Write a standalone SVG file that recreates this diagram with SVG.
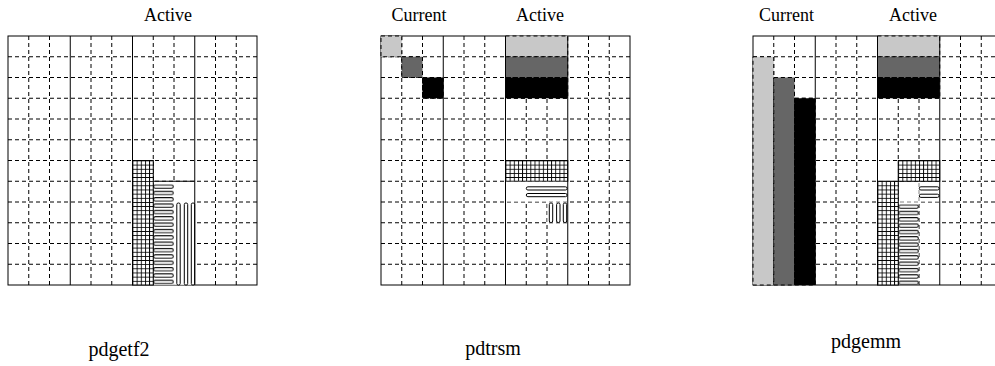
<svg xmlns="http://www.w3.org/2000/svg" width="995" height="366" viewBox="0 0 995 366">
<style>
.d{stroke:#000;stroke-width:1;stroke-dasharray:4 3;fill:none}
.s{stroke:#000;stroke-width:1;fill:none}
.lg{fill:#c8c8c8}
.dg{fill:#666}
.bk{fill:#000}
.f{stroke:#000;stroke-width:1;stroke-dasharray:4 3}
.w{fill:#fff;stroke:none}
.bar{fill:#fff;stroke:#000;stroke-width:1}
.xh{fill:url(#xh);stroke:#000;stroke-width:1}
.hb{fill:url(#hb);stroke:none}
.lbl{font-family:"Liberation Serif","Times New Roman",serif;font-size:18px;text-anchor:middle;fill:#000}
.name{font-family:"Liberation Serif","Times New Roman",serif;font-size:20px;text-anchor:middle;fill:#000}
</style>
<defs>
<pattern id="xh" patternUnits="userSpaceOnUse" width="4.15" height="4.15">
<rect width="4.15" height="4.15" fill="#fff"/>
<path d="M0.45,0V4.15M0,0.45H4.15" stroke="#000" stroke-width="0.9" fill="none"/>
</pattern>
<pattern id="hb" patternUnits="userSpaceOnUse" width="20.75" height="6.35">
<rect x="0.6" y="0.6" width="19.5" height="3.2" rx="1.6" fill="#fff" stroke="#000" stroke-width="1"/>
</pattern>
<g id="gridbase">
<path class="d" d="M0,20.75H249M0,41.5H249M0,62.25H249M0,83H249M0,103.75H249M0,124.5H249M0,145.25H249M0,166H249M0,186.75H249M0,207.5H249M0,228.25H249"/>
<path class="d" d="M20.75,0V249M41.5,0V249M83,0V249M103.75,0V249M145.25,0V249M166,0V249M207.5,0V249M228.25,0V249"/>
<rect class="s" x="0" y="0" width="249" height="249"/>
</g>
<path id="blocklines" class="s" d="M62.25,0V249M124.5,0V249M186.75,0V249"/>
</defs>

<g id="panel-pdgetf2">
<use href="#gridbase" transform="translate(8,36)"/>
<rect class="w" x="153.75" y="181.75" width="40.5" height="103"/>
<g transform="translate(153.1,184.4)"><rect class="hb" width="20.75" height="100.6"/></g>
<rect class="bar" x="176.8" y="203" width="3.4" height="82" rx="1.5"/>
<rect class="bar" x="184.3" y="203" width="3.4" height="82" rx="1.5"/>
<rect class="bar" x="191.3" y="203" width="3.4" height="82" rx="1.5"/>
<path class="s" d="M153.25,181.25H194.75"/>
<g transform="translate(132.5,160.5)"><rect class="xh" width="20.75" height="124.5"/></g>
<use href="#blocklines" transform="translate(8,36)"/>
<text class="lbl" x="168" y="21">Active</text>
<text class="name" x="119" y="356">pdgetf2</text>
</g>

<g id="panel-pdtrsm">
<use href="#gridbase" transform="translate(381,36)"/>
<rect class="lg f" x="381" y="36" width="20.75" height="20.75"/>
<rect class="dg f" x="401.75" y="56.75" width="20.75" height="20.75"/>
<rect class="bk f" x="422.5" y="77.5" width="20.75" height="20.75"/>
<rect class="lg f" x="505.5" y="36" width="62.25" height="20.75"/>
<rect class="dg f" x="505.5" y="56.75" width="62.25" height="20.75"/>
<rect class="bk f" x="505.5" y="77.5" width="62.25" height="20.75"/>
<g transform="translate(505.5,160.5)"><rect class="xh" width="62.25" height="20.75"/></g>
<rect class="w" x="506" y="181.75" width="61.25" height="19.75"/>
<rect class="bar" x="526.3" y="186.8" width="40.8" height="3.2" rx="1.6"/>
<rect class="bar" x="526.3" y="193.5" width="40.8" height="3.2" rx="1.6"/>
<rect class="w" x="547.5" y="202.5" width="19.75" height="19.75"/>
<rect class="bar" x="549.3" y="203" width="3.4" height="19.5" rx="1.5"/>
<rect class="bar" x="556.6" y="203" width="3.4" height="19.5" rx="1.5"/>
<rect class="bar" x="563.3" y="203" width="3.4" height="19.5" rx="1.5"/>
<use href="#blocklines" transform="translate(381,36)"/>
<text class="lbl" x="419" y="21">Current</text>
<text class="lbl" x="540" y="21">Active</text>
<text class="name" x="493" y="355">pdtrsm</text>
</g>

<g id="panel-pdgemm">
<use href="#gridbase" transform="translate(753,36)"/>
<rect class="lg f" x="753" y="56.75" width="20.75" height="228.25"/>
<rect class="dg f" x="773.75" y="77.5" width="20.75" height="207.5"/>
<rect class="bk f" x="794.5" y="98.25" width="20.75" height="186.75"/>
<rect class="lg f" x="877.5" y="36" width="62.25" height="20.75"/>
<rect class="dg f" x="877.5" y="56.75" width="62.25" height="20.75"/>
<rect class="bk f" x="877.5" y="77.5" width="62.25" height="20.75"/>
<rect class="w" x="878" y="161" width="19.75" height="19.75"/>
<rect class="w" x="898.75" y="181.75" width="19.75" height="19.75"/>
<rect class="w" x="919.5" y="181.75" width="19.75" height="19.75"/>
<rect class="bar" x="919.3" y="186.8" width="19.8" height="3.2" rx="1.6"/>
<rect class="bar" x="919.3" y="194.2" width="19.8" height="3.2" rx="1.6"/>
<rect class="w" x="898.75" y="202.5" width="19.75" height="82"/>
<g transform="translate(898.25,204.4)"><rect class="hb" width="20.75" height="80.6"/></g>
<g transform="translate(898.25,160.5)"><rect class="xh" width="41.5" height="20.75"/></g>
<g transform="translate(877.5,181.25)"><rect class="xh" width="20.75" height="103.75"/></g>
<use href="#blocklines" transform="translate(753,36)"/>
<text class="lbl" x="786.5" y="21">Current</text>
<text class="lbl" x="913" y="21">Active</text>
<text class="name" x="866" y="348">pdgemm</text>
</g>
</svg>
